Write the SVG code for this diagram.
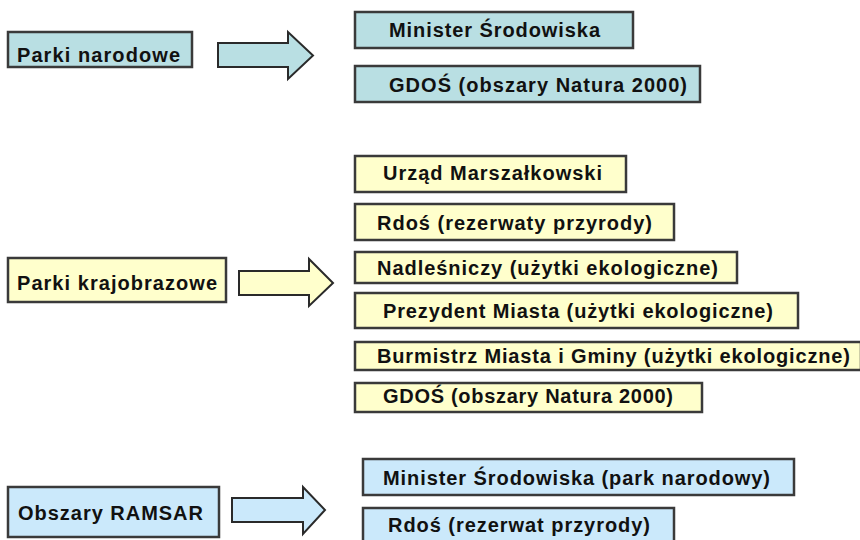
<svg xmlns="http://www.w3.org/2000/svg" width="860" height="540" viewBox="0 0 860 540">
<style>
.box{stroke:#3a3a3a;stroke-width:2.5}
polygon{stroke:#2a2a2a;stroke-width:2;stroke-linejoin:miter}
.a{fill:#b9dfe3}
.b{fill:#ffffcc}
.c{fill:#cbe9fb}
text{font-family:"Liberation Sans",Arial,sans-serif;font-weight:bold;font-size:20px;fill:#111}
</style>
<rect width="860" height="540" fill="#fff"/>
<g id="connectors">
<polygon class="a" points="218,43 288,43 288,32 313,55.5 288,79 288,67 218,67"/>
<polygon class="b" points="239,271 309,271 309,259 333,283 309,306 309,295 239,295"/>
<polygon class="c" points="232,498 303,498 303,487 325,510 303,534 303,522 232,522"/>
</g>
<g id="parki-narodowe"><rect class="box a" x="8" y="32" width="184" height="35"/><text x="17" y="62" textLength="163" lengthAdjust="spacing">Parki narodowe</text></g>
<g id="minister-1"><rect class="box a" x="355" y="12" width="278" height="36"/><text x="389" y="37" textLength="211" lengthAdjust="spacing">Minister Środowiska</text></g>
<g id="gdos-1"><rect class="box a" x="355" y="66" width="345" height="36"/><text x="389" y="92" textLength="298" lengthAdjust="spacing">GDOŚ (obszary Natura 2000)</text></g>
<g id="parki-krajobrazowe"><rect class="box b" x="8" y="258" width="218" height="44"/><text x="17" y="290" textLength="200" lengthAdjust="spacing">Parki krajobrazowe</text></g>
<g id="urzad"><rect class="box b" x="355" y="156" width="271" height="36"/><text x="383" y="180" textLength="219" lengthAdjust="spacing">Urząd Marszałkowski</text></g>
<g id="rdos-1"><rect class="box b" x="355" y="204" width="319" height="36"/><text x="377" y="230" textLength="275" lengthAdjust="spacing">Rdoś (rezerwaty przyrody)</text></g>
<g id="nadlesniczy"><rect class="box b" x="355" y="252" width="382" height="31"/><text x="377" y="275" textLength="341" lengthAdjust="spacing">Nadleśniczy (użytki ekologiczne)</text></g>
<g id="prezydent"><rect class="box b" x="355" y="293" width="443" height="35"/><text x="383" y="318" textLength="390" lengthAdjust="spacing">Prezydent Miasta (użytki ekologiczne)</text></g>
<g id="burmistrz"><rect class="box b" x="355" y="342" width="506" height="28"/><text x="377" y="363" textLength="473" lengthAdjust="spacing">Burmistrz Miasta i Gminy (użytki ekologiczne)</text></g>
<g id="gdos-2"><rect class="box b" x="355" y="383" width="347" height="29"/><text x="383" y="403" textLength="290" lengthAdjust="spacing">GDOŚ (obszary Natura 2000)</text></g>
<g id="ramsar"><rect class="box c" x="8" y="487" width="211" height="50"/><text x="18" y="520" textLength="185" lengthAdjust="spacing">Obszary RAMSAR</text></g>
<g id="minister-2"><rect class="box c" x="363" y="459" width="431" height="36"/><text x="383" y="485" textLength="387" lengthAdjust="spacing">Minister Środowiska (park narodowy)</text></g>
<g id="rdos-2"><rect class="box c" x="363" y="508" width="311" height="38"/><text x="388" y="532" textLength="262" lengthAdjust="spacing">Rdoś (rezerwat przyrody)</text></g>
</svg>
